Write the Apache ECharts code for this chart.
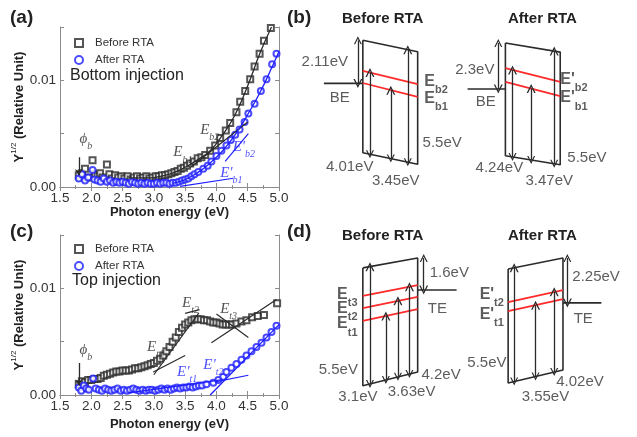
<!DOCTYPE html>
<html>
<head>
<meta charset="utf-8">
<script src="https://cdn.jsdelivr.net/npm/echarts@6/dist/echarts.min.js"></script>
<style>
  html, body { margin: 0; background: #fff; }
  #chart { width: 637px; height: 437px; }
</style>
</head>
<body>
<div id="chart"></div>
<script>
// Y^1/2 values are in units of 0.001 (axis labels show 0.00 / 0.01)

// (a) bottom injection
const beforeA = [[1.80,1.1],[1.85,1.3],[1.90,1.7],[1.95,0.9],[2.02,2.5],[2.06,1.2],[2.10,1.0],[2.14,1.3],[2.18,0.9],[2.25,2.1],[2.29,1.2],[2.33,0.8],[2.38,1.1],[2.43,0.9],[2.48,1.0],[2.53,0.8],[2.58,1.0],[2.63,0.7],[2.68,0.9],[2.73,1.0],[2.78,0.8],[2.83,0.9],[2.88,1.0],[2.93,0.8],[2.98,0.9],[3.03,1.0],[3.08,1.0],[3.13,1.1],[3.18,1.1],[3.23,1.2],[3.28,1.3],[3.33,1.4],[3.38,1.5],[3.43,1.7],[3.48,1.8],[3.53,2.0],[3.58,2.2],[3.64,2.4],[3.70,2.7],[3.76,2.8],[3.82,3.0],[3.90,3.4],[3.98,3.9],[4.06,4.6],[4.15,5.3],[4.22,6.0],[4.32,7.0],[4.38,8.0],[4.46,9.0],[4.54,10.1],[4.61,11.3],[4.69,12.5],[4.76,13.7],[4.87,14.9]];
const afterA = [[1.80,0.8],[1.85,1.2],[1.90,0.6],[1.95,0.9],[2.02,1.6],[2.05,0.7],[2.10,0.6],[2.15,0.5],[2.20,0.8],[2.25,0.5],[2.30,0.6],[2.35,0.4],[2.40,0.5],[2.45,0.4],[2.50,0.5],[2.55,0.4],[2.60,0.3],[2.65,0.5],[2.70,0.4],[2.75,0.3],[2.80,0.4],[2.85,0.3],[2.90,0.4],[2.95,0.3],[3.00,0.3],[3.05,0.4],[3.10,0.3],[3.15,0.4],[3.20,0.4],[3.25,0.3],[3.30,0.4],[3.35,0.4],[3.40,0.5],[3.45,0.6],[3.50,0.7],[3.55,0.8],[3.60,1.0],[3.65,1.2],[3.71,1.4],[3.79,1.7],[3.86,2.0],[3.92,2.4],[4.00,2.9],[4.08,3.4],[4.16,3.9],[4.23,4.4],[4.30,4.9],[4.37,5.4],[4.45,6.1],[4.51,6.9],[4.61,7.8],[4.71,9.0],[4.80,10.1],[4.89,11.5],[4.96,12.5]];
const fitBeforeA = [[2.6,0.85],[2.9,0.85],[3.1,1.0],[3.3,1.3],[3.5,1.85],[3.7,2.55],[3.9,3.4],[4.1,4.9],[4.3,6.8],[4.5,9.5],[4.7,12.6],[4.88,15]];
const tanBeforeA = [[3.6,1.9],[4.5,6.1]];
const fitAfterA = [[3.3,0.35],[3.5,0.7],[3.7,1.35],[3.9,2.25],[4.1,3.4],[4.3,4.9],[4.5,6.8],[4.7,8.9],[4.9,11.4],[5.0,12.7]];
const tanAfterA1 = [[3.42,0.05],[4.27,0.82]];
const tanAfterA2 = [[4.14,2.4],[4.51,5.0]];
const arrowA = [[1.8,2.8],[1.8,1.1]];

// (c) top injection
const beforeC = [[1.80,1.0],[1.85,1.3],[1.90,1.2],[1.95,1.4],[2.00,1.4],[2.05,1.5],[2.10,1.5],[2.15,1.6],[2.20,1.8],[2.25,1.9],[2.30,2.0],[2.35,2.1],[2.40,2.2],[2.45,2.2],[2.50,2.3],[2.55,2.3],[2.60,2.3],[2.65,2.4],[2.70,2.5],[2.75,2.5],[2.80,2.6],[2.85,2.7],[2.90,2.8],[2.95,2.9],[3.00,3.0],[3.05,3.2],[3.10,3.4],[3.15,3.7],[3.20,4.1],[3.25,4.5],[3.30,5.0],[3.35,5.4],[3.40,5.9],[3.45,6.3],[3.50,6.6],[3.55,6.8],[3.60,7.0],[3.65,7.1],[3.70,7.1],[3.75,7.1],[3.80,7.0],[3.85,7.0],[3.90,6.9],[3.95,6.8],[4.00,6.8],[4.05,6.7],[4.10,6.6],[4.15,6.6],[4.20,6.6],[4.25,6.6],[4.32,6.7],[4.40,6.9],[4.48,7.0],[4.57,7.3],[4.66,7.4],[4.76,7.5],[4.97,8.6]];
const afterC = [[1.80,0.7],[1.84,0.4],[1.88,0.9],[1.92,0.6],[1.96,0.5],[2.03,1.55],[2.07,0.6],[2.12,0.5],[2.17,0.4],[2.22,0.6],[2.27,0.5],[2.32,0.4],[2.37,0.5],[2.42,0.6],[2.47,0.4],[2.52,0.5],[2.57,0.4],[2.62,0.5],[2.67,0.6],[2.72,0.5],[2.77,0.4],[2.82,0.5],[2.87,0.4],[2.92,0.5],[2.97,0.5],[3.02,0.4],[3.07,0.5],[3.12,0.6],[3.17,0.5],[3.22,0.6],[3.27,0.5],[3.32,0.6],[3.37,0.7],[3.42,0.6],[3.47,0.7],[3.52,0.7],[3.57,0.8],[3.62,0.7],[3.67,0.8],[3.72,0.9],[3.77,0.9],[3.84,1.0],[3.95,1.15],[4.03,1.4],[4.11,1.7],[4.16,2.15],[4.24,2.55],[4.32,2.9],[4.40,3.3],[4.48,3.7],[4.56,4.1],[4.64,4.5],[4.72,4.9],[4.80,5.4],[4.88,5.9],[4.96,6.5]];
const tanBeforeC1 = [[2.99,2.16],[3.5,3.7]];
const steepBeforeC = [[3.0,1.9],[3.72,7.7]];
const tanBeforeC2 = [[3.5,7.65],[3.73,8.0]];
const tanBeforeC3a = [[3.92,4.9],[4.96,8.95]];
const tanBeforeC3b = [[4.0,7.6],[4.51,5.4]];
const fitAfterC = [[3.9,0],[5.0,6.6]];
const tanAfterC1 = [[2.6,0.2],[4.1,1.45]];
const tanAfterC2 = [[3.98,1.23],[4.51,1.85]];
const arrowC = [[1.8,3.0],[1.8,0.9]];

// in-plot italic labels: [text, x, y, colour, align]
const labelsA = [
  ['{ei|E}{es|b2}', 3.74, 5.1, 'k', 'left'],
  ['{ei|E}{es|b1}', 3.31, 3.0, 'k', 'left'],
  ["{ei|E'}{es|b2}", 4.26, 3.5, 'b', 'left'],
  ["{ei|E'}{es|b1}", 4.06, 1.05, 'b', 'left'],
  ['{ei|\u03d5}{es|b}', 1.81, 4.3, 'k', 'center']
];
const labelsC = [
  ['{ei|E}{es|t1}', 2.89, 4.3, 'k', 'left'],
  ['{ei|E}{es|t2}', 3.45, 8.4, 'k', 'left'],
  ['{ei|E}{es|t3}', 4.06, 7.8, 'k', 'left'],
  ["{ei|E'}{es|t1}", 3.37, 1.95, 'b', 'left'],
  ["{ei|E'}{es|t2}", 3.79, 2.6, 'b', 'left'],
  ['{ei|\u03d5}{es|b}', 1.81, 4.0, 'k', 'center']
];

// (b) band diagram, bottom electrode; x = position across layer, y = energy (eV)
const boxB1 = [[0,2.11],[1,1.55],[1,-3.95],[0,-3.39],[0,2.11]];
const boxB2 = [[2.6,1.97],[3.6,1.53],[3.6,-3.97],[2.6,-3.53],[2.6,1.97]];
const levelBE = [[[-0.71,0],[0,0]], [[1.91,-0.27],[2.6,-0.27]]];
const trapsB = [[[0,0.61],[1,-0.03]], [[0,0.02],[1,-0.66]], [[2.6,0.75],[3.6,0.07]], [[2.6,0.07],[3.6,-0.62]]];
const arrowsB = [[[-0.09,0],[-0.09,2.11]], [[0.13,0.53],[0.13,-3.46]], [[0.51,-0.33],[0.51,-3.67]], [[0.82,1.65],[0.82,-3.85]],
                 [[2.47,-0.27],[2.47,1.97]], [[2.73,0.66],[2.73,-3.59]], [[3.07,-0.25],[3.07,-3.74]], [[3.49,1.58],[3.49,-3.92]]];
const textB = [
  ['2.11eV', -0.27, 1.05, 'right'], ['BE', -0.42, -0.71, 'center'],
  ['{bm|E}{bs|b2}', 1.12, -0.05, 'left'], ['{bm|E}{bs|b1}', 1.12, -0.88, 'left'],
  ['5.5eV', 1.09, -2.91, 'left'], ['4.01eV', -0.24, -4.08, 'center'], ['3.45eV', 0.6, -4.77, 'center'],
  ['2.3eV', 2.4, 0.65, 'right'], ['BE', 2.24, -0.91, 'center'],
  ["{bm|E'}{bs|b2}", 3.6, 0.05, 'left'], ["{bm|E'}{bs|b1}", 3.6, -0.86, 'left'],
  ['5.5eV', 3.73, -3.64, 'left'], ['4.24eV', 2.49, -4.13, 'center'], ['3.47eV', 3.4, -4.77, 'center']
];

// (d) band diagram, top electrode
const boxD1 = [[0,1.49],[1,1.97],[1,-3.59],[0,-4.27],[0,1.49]];
const boxD2 = [[2.65,1.44],[3.65,1.97],[3.65,-3.5],[2.65,-4.13],[2.65,1.44]];
const levelTE = [[[1,0.41],[1.71,0.41]], [[3.65,-0.22],[4.35,-0.22]]];
const trapsD = [[[0,0.12],[1,0.65]], [[0,-0.47],[1,0.07]], [[0,-1.10],[1,-0.52]], [[2.65,-0.18],[3.65,0.41]], [[2.65,-0.62],[3.65,-0.03]]];
const arrowsD = [[[1.11,0.41],[1.11,1.97]], [[0.13,1.55],[0.13,-4.18]], [[0.42,-0.86],[0.42,-3.98]], [[0.64,-0.12],[0.64,-3.83]], [[0.85,0.57],[0.85,-3.69]],
                 [[3.73,-0.22],[3.73,1.97]], [[2.76,1.50],[2.76,-4.06]], [[3.15,-0.33],[3.15,-3.82]], [[3.49,0.32],[3.49,-3.6]]];
const textD = [
  ['{bm|E}{bs|t3}', -0.47, 0.05, 'left'], ['{bm|E}{bs|t2}', -0.47, -0.62, 'left'], ['{bm|E}{bs|t1}', -0.47, -1.4, 'left'],
  ['1.6eV', 1.22, 1.24, 'left'], ['TE', 1.36, -0.52, 'center'], ['5.5eV', -0.09, -3.49, 'right'],
  ['4.2eV', 1.07, -3.74, 'left'], ['3.1eV', -0.09, -4.8, 'center'], ['3.63eV', 0.89, -4.57, 'center'],
  ["{bm|E'}{bs|t2}", 2.13, 0.06, 'left'], ["{bm|E'}{bs|t1}", 2.13, -0.92, 'left'],
  ['2.25eV', 3.82, 1.05, 'left'], ['TE', 4.02, -1.0, 'center'], ['5.5eV', 2.62, -3.16, 'right'],
  ['4.02eV', 3.96, -4.08, 'center'], ['3.55eV', 3.33, -4.81, 'center']
];

const BLACK = '#2b2b2b';
const BLUE = '#1f1fff';
const RED = '#ff2a2a';
const FRAME = '#8c8c8c';
const SANS = 'Liberation Sans';
const SERIF = 'Liberation Serif';
const chevron = 'path://M0,9L5,0L10,9L8.4,9L5,2.8L1.6,9Z';

const chart = echarts.init(document.getElementById('chart'));

const tickFmt = v => (v === 0 ? '0.00' : v === 10 ? '0.01' : '');

function plotAxes(grid, nameGap) {
  const line = { lineStyle: { color: FRAME, width: 1 } };
  const x = {
    type: 'value', gridIndex: grid, min: 1.5, max: 5.0, interval: 0.5,
    axisLine: line, axisTick: { inside: true, length: 4, lineStyle: { color: FRAME } },
    minorTick: { show: true, splitNumber: 2, length: 2, lineStyle: { color: FRAME } },
    splitLine: { show: false },
    axisLabel: { fontFamily: SANS, fontSize: 13.5, color: '#333', margin: 4, formatter: v => v.toFixed(1) },
    name: 'Photon energy (eV)', nameLocation: 'middle', nameGap: nameGap,
    nameTextStyle: { fontFamily: SANS, fontWeight: 'bold', fontSize: 13, color: '#222' }
  };
  const xTop = Object.assign({}, x, { position: 'top', axisLabel: { show: false }, name: '' });
  const y = {
    type: 'value', gridIndex: grid, min: 0, max: 15, interval: 5,
    axisLine: line, axisTick: { inside: true, length: 4, lineStyle: { color: FRAME } },
    splitLine: { show: false },
    axisLabel: { fontFamily: SANS, fontSize: 13.5, color: '#333', margin: 4, formatter: tickFmt },
    name: '{y|Y}{sup|1/2}{y| (Relative Unit)}', nameLocation: 'middle', nameRotate: 90, nameGap: 27,
    nameTextStyle: {
      rich: {
        y: { fontFamily: SANS, fontWeight: 'bold', fontSize: 13, color: '#222', lineHeight: 16, verticalAlign: 'bottom' },
        sup: { fontFamily: SANS, fontSize: 8, color: '#222', lineHeight: 16, verticalAlign: 'top' }
      }
    }
  };
  const yRight = Object.assign({}, y, { position: 'right', axisLabel: { show: false }, name: '' });
  return { x: [x, xTop], y: [y, yRight] };
}

const axA = plotAxes(0, 18);
const axC = plotAxes(1, 23);
const hiddenX = g => ({ type: 'value', gridIndex: g, min: -1, max: 5, show: false });
const hiddenY = g => ({ type: 'value', gridIndex: g, min: -5.5, max: 3, show: false });

function seg(data, xi, yi, color, width, smooth) {
  return { type: 'line', data: data, xAxisIndex: xi, yAxisIndex: yi, showSymbol: false, symbol: 'none',
    smooth: !!smooth, lineStyle: { color: color, width: width }, silent: true, z: 3 };
}
function arrows(list, xi, yi, color, symbols, size) {
  return { type: 'lines', coordinateSystem: 'cartesian2d', xAxisIndex: xi, yAxisIndex: yi,
    data: list.map(c => ({ coords: c })), symbol: symbols, symbolSize: size,
    lineStyle: { color: color, width: 1.3, opacity: 1 }, silent: true, z: 4 };
}
function scatter(name, data, xi, yi, symbol, color) {
  return { name: name, type: 'scatter', data: data, xAxisIndex: xi, yAxisIndex: yi,
    symbol: symbol, symbolSize: 6, itemStyle: { color: color, borderColor: color, borderWidth: 0.9 }, z: 2 };
}
const plotRich = {
  ei: { fontFamily: SERIF, fontStyle: 'italic', fontSize: 15, lineHeight: 15, verticalAlign: 'top' },
  es: { fontFamily: SERIF, fontStyle: 'italic', fontSize: 10, lineHeight: 20, verticalAlign: 'bottom' }
};
const bandRich = {
  bm: { fontFamily: SANS, fontWeight: 'bold', fontSize: 16, lineHeight: 16, verticalAlign: 'top', color: '#222' },
  bs: { fontFamily: SANS, fontWeight: 'bold', fontSize: 11, lineHeight: 22, verticalAlign: 'bottom', color: '#222' }
};
function textLayer(list, xi, yi, colorOf, rich, fontSize) {
  return { type: 'scatter', xAxisIndex: xi, yAxisIndex: yi, symbolSize: 0, silent: true, z: 5,
    data: list.map(t => {
      const c = colorOf(t);
      const r = {};
      Object.keys(rich).forEach(k => { r[k] = Object.assign({}, rich[k], { color: c }); });
      return { value: [t[1], t[2]], label: { show: true, formatter: t[0], align: t[3],
        verticalAlign: 'middle', position: [0, 0], color: c, fontFamily: SANS, fontSize: fontSize, rich: r } };
    }) };
}
const plotColor = t => (t[3] === 'b' ? BLUE : BLACK);
const bandColor = () => '#333';

const series = [
  // (a)
  scatter('Before RTA', beforeA, 0, 0, 'emptyRect', BLACK),
  scatter('After RTA', afterA, 0, 0, 'emptyCircle', BLUE),
  seg(fitBeforeA, 0, 0, BLACK, 1.3, true),
  seg(tanBeforeA, 0, 0, BLACK, 1.2),
  seg(fitAfterA, 0, 0, BLUE, 1.3, true),
  seg(tanAfterA1, 0, 0, BLUE, 1.2),
  seg(tanAfterA2, 0, 0, BLUE, 1.2),
  arrows([arrowA], 0, 0, BLACK, ['none', 'arrow'], 6),
  textLayer(labelsA, 0, 0, plotColor, plotRich, 15),
  // (c)
  scatter('Before RTA', beforeC, 2, 2, 'emptyRect', BLACK),
  scatter('After RTA', afterC, 2, 2, 'emptyCircle', BLUE),
  seg(tanBeforeC1, 2, 2, BLACK, 1.2),
  seg(steepBeforeC, 2, 2, BLACK, 1.2),
  seg(tanBeforeC2, 2, 2, BLACK, 1.2),
  seg(tanBeforeC3a, 2, 2, BLACK, 1.2),
  seg(tanBeforeC3b, 2, 2, BLACK, 1.2),
  seg(fitAfterC, 2, 2, BLUE, 1.3),
  seg(tanAfterC1, 2, 2, BLUE, 1.2),
  seg(tanAfterC2, 2, 2, BLUE, 1.2),
  arrows([arrowC], 2, 2, BLACK, ['none', 'arrow'], 6),
  textLayer(labelsC, 2, 2, plotColor, plotRich, 15),
  // (b)
  seg(boxB1, 4, 4, BLACK, 1.6),
  seg(boxB2, 4, 4, BLACK, 1.6),
  ...levelBE.map(l => seg(l, 4, 4, BLACK, 1.6)),
  ...trapsB.map(l => seg(l, 4, 4, RED, 1.8)),
  arrows(arrowsB, 4, 4, BLACK, [chevron, chevron], [9, 8]),
  textLayer(textB, 4, 4, bandColor, bandRich, 15),
  // (d)
  seg(boxD1, 5, 5, BLACK, 1.6),
  seg(boxD2, 5, 5, BLACK, 1.6),
  ...levelTE.map(l => seg(l, 5, 5, BLACK, 1.6)),
  ...trapsD.map(l => seg(l, 5, 5, RED, 1.8)),
  arrows(arrowsD, 5, 5, BLACK, [chevron, chevron], [9, 8]),
  textLayer(textD, 5, 5, bandColor, bandRich, 15)
];

const titleStyle = (size, bold) => ({ fontFamily: SANS, fontSize: size, fontWeight: bold ? 'bold' : 'normal', color: '#222' });
const titles = [
  { text: '(a)', left: 10, top: 8, textStyle: titleStyle(19, true) },
  { text: '(b)', left: 287, top: 8, textStyle: titleStyle(19, true) },
  { text: '(c)', left: 10, top: 222, textStyle: titleStyle(19, true) },
  { text: '(d)', left: 287, top: 222, textStyle: titleStyle(19, true) },
  { text: 'Before RTA', left: 342, top: 11, textStyle: titleStyle(15, true) },
  { text: 'After RTA', left: 508, top: 11, textStyle: titleStyle(15, true) },
  { text: 'Before RTA', left: 342, top: 228, textStyle: titleStyle(15, true) },
  { text: 'After RTA', left: 508, top: 228, textStyle: titleStyle(15, true) },
  { text: 'Bottom injection', left: 70, top: 68, textStyle: titleStyle(16, false) },
  { text: 'Top injection', left: 72, top: 273, textStyle: titleStyle(16, false) }
].map(t => Object.assign({ padding: 0 }, t));

const legendBase = {
  orient: 'vertical', itemWidth: 8, itemHeight: 8, itemGap: 5, padding: 0,
  textStyle: { fontFamily: SANS, fontSize: 11.5, color: '#333', padding: [0, 0, 0, 7] }, selectedMode: false,
  data: ['Before RTA', 'After RTA']
};

chart.setOption({
  animation: false,
  backgroundColor: '#fff',
  title: titles,
  legend: [
    Object.assign({}, legendBase, { left: 74, top: 37 }),
    Object.assign({}, legendBase, { left: 74, top: 243 })
  ],
  grid: [
    { left: 60, top: 27, width: 219, height: 160 },
    { left: 60, top: 235, width: 219, height: 160 },
    { left: 308, top: 22, width: 330, height: 174 },
    { left: 308, top: 237, width: 330, height: 174 }
  ],
  xAxis: [axA.x[0], axA.x[1], axC.x[0], axC.x[1], hiddenX(2), hiddenX(3)],
  yAxis: [axA.y[0], axA.y[1], axC.y[0], axC.y[1], hiddenY(2), hiddenY(3)],
  series: series
});
</script>
</body>
</html>
